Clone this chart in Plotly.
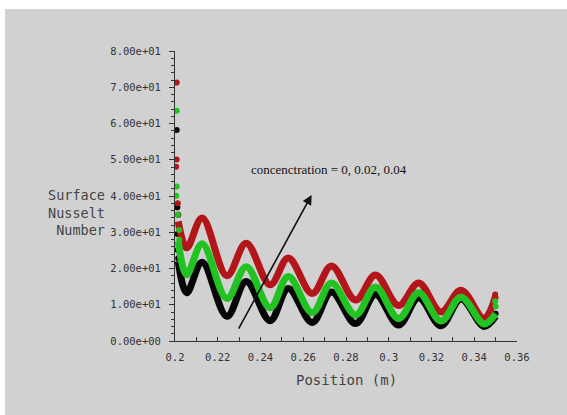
import plotly.graph_objects as go

# ---------------- data ----------------
x_curve = [0.2015, 0.2055, 0.2127, 0.2243, 0.2333, 0.2445, 0.2530, 0.2642, 0.2732,
           0.2845, 0.2938, 0.3046, 0.3140, 0.3244, 0.3338, 0.3446, 0.3500]
nu_c000 = [22.0, 13.3, 21.7, 6.8, 16.4, 5.6, 14.5, 5.1, 13.5,
           4.8, 12.8, 4.4, 11.9, 4.2, 11.6, 4.0, 6.8]
nu_c002 = [27.5, 18.3, 26.8, 11.7, 20.5, 9.2, 17.8, 7.8, 16.0,
           7.2, 14.9, 6.2, 13.3, 5.5, 12.1, 4.7, 7.5]
nu_c004 = [33.0, 25.7, 33.9, 18.0, 27.0, 15.5, 22.9, 13.1, 20.7,
           11.3, 18.2, 9.8, 16.0, 8.0, 14.0, 6.2, 12.5]

# isolated near-wall / end points
x_dots_c000 = [0.2008, 0.2011, 0.2015, 0.2012, 0.2013, 0.2015, 0.3500]
y_dots_c000 = [58.2, 36.9, 34.8, 29.5, 25.1, 22.8, 7.5]
x_dots_c002 = [0.2008, 0.2008, 0.2006, 0.2013, 0.2019, 0.2020, 0.3498, 0.3500]
y_dots_c002 = [63.5, 42.6, 40.1, 34.8, 30.6, 27.9, 11.0, 9.5]
x_dots_c004 = [0.2008, 0.2008, 0.2005, 0.2013, 0.2015, 0.3498]
y_dots_c004 = [71.3, 50.1, 48.1, 38.0, 34.8, 12.8]

y_tickvals = [0, 10, 20, 30, 40, 50, 60, 70, 80]
y_ticktext = ["0.00e+00", "1.00e+01", "2.00e+01", "3.00e+01", "4.00e+01",
              "5.00e+01", "6.00e+01", "7.00e+01", "8.00e+01"]
x_tickvals = [0.2, 0.22, 0.24, 0.26, 0.28, 0.3, 0.32, 0.34, 0.36]
x_ticktext = ["0.2", "0.22", "0.24", "0.26", "0.28", "0.3", "0.32", "0.34", "0.36"]

C_BLACK = "#060606"
C_GREEN = "#22c222"
C_RED = "#b2161a"
BG = "#d1d1d1"
MONO = "DejaVu Sans Mono"

W, H = 567, 415
L, R, T, B = 175, 50, 51, 74
PW, PH = W - L - R, H - T - B


def px(xp):
    return (xp - L) / PW


def py(yp):
    return (H - B - yp) / PH


fig = go.Figure()
for xs, ys, xd, yd, col in [
    (x_curve, nu_c000, x_dots_c000, y_dots_c000, C_BLACK),
    (x_curve, nu_c004, x_dots_c004, y_dots_c004, C_RED),
    (x_curve, nu_c002, x_dots_c002, y_dots_c002, C_GREEN),
]:
    fig.add_trace(go.Scatter(x=xs, y=ys, mode="lines",
                             line=dict(color=col, width=7, shape="spline", smoothing=1),
                             showlegend=False, hoverinfo="skip"))
    fig.add_trace(go.Scatter(x=xd, y=yd, mode="markers",
                             marker=dict(color=col, size=6, line=dict(width=0)),
                             showlegend=False, hoverinfo="skip"))

fig.update_layout(
    width=W, height=H,
    margin=dict(l=L, r=R, t=T, b=B),
    paper_bgcolor=BG, plot_bgcolor=BG,
    showlegend=False,
    xaxis=dict(range=[0.2, 0.36], showgrid=False, zeroline=False,
               showline=True, linecolor="#333", linewidth=1,
               ticks="inside", ticklen=4, tickcolor="#333",
               tickvals=x_tickvals, ticktext=x_ticktext,
               tickfont=dict(family=MONO, size=10.5, color="#333"),
               ticklabelstandoff=6,
               minor=dict(dtick=0.01, tick0=0.2, ticks="inside", ticklen=4, tickcolor="#333"),
               fixedrange=True),
    yaxis=dict(range=[0, 80], showgrid=False, zeroline=False,
               showline=True, linecolor="#333", linewidth=1,
               ticks="outside", ticklen=5, tickcolor="#333",
               tickvals=y_tickvals, ticktext=y_ticktext,
               tickfont=dict(family=MONO, size=10.5, color="#333"),
               ticklabelstandoff=6,
               minor=dict(dtick=2, tick0=0, ticks="outside", ticklen=3, tickcolor="#333"),
               fixedrange=True),
)

# white border strips (left and top)
fig.add_shape(type="rect", xref="paper", yref="paper", x0=px(0), x1=px(5), y0=py(H), y1=py(0),
              fillcolor="white", line=dict(width=0), layer="above")
fig.add_shape(type="rect", xref="paper", yref="paper", x0=px(0), x1=px(W), y0=py(9), y1=py(0),
              fillcolor="white", line=dict(width=0), layer="above")

# y axis title (three lines)
fig.add_annotation(text="Surface<br>Nusselt<br>Number", xref="paper", yref="paper",
                   x=px(107), y=py(212.5), xanchor="right", yanchor="middle", align="right",
                   showarrow=False, font=dict(family=MONO, size=13.5, color="#444"))

# x axis title
fig.add_annotation(text="Position (m)", xref="paper", yref="paper", x=px(346), y=py(380),
                   xanchor="center", yanchor="middle", showarrow=False,
                   font=dict(family=MONO, size=14, color="#444"))

# concentration note and arrow
fig.add_annotation(text="concenctration = 0, 0.02, 0.04", xref="paper", yref="paper",
                   x=px(329), y=py(169), xanchor="center", yanchor="middle", showarrow=False,
                   font=dict(family="Liberation Serif", size=13, color="#111"))
fig.add_annotation(x=0.2639, y=40.3, ax=0.2294, ay=3.0, xref="x", yref="y",
                   axref="x", ayref="y", text="", showarrow=True,
                   arrowhead=2, arrowsize=1.2, arrowwidth=1.6, arrowcolor="#111")

fig.write_html("out.html", config={"displayModeBar": False},
               post_script="document.body.style.margin='0';document.body.style.background='white';")
